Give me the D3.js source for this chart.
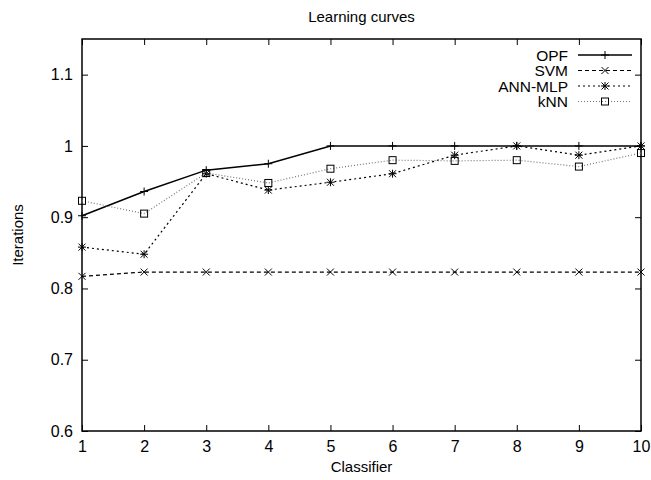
<!DOCTYPE html>
<html>
<head>
<meta charset="utf-8">
<script src="https://cdn.jsdelivr.net/npm/d3@7"></script>
<style>
  body { margin: 0; background: #fff; }
  text { font-family: "Liberation Sans", Arial, sans-serif; fill: #000; }
</style>
</head>
<body>
<svg id="chart" width="651" height="480"></svg>
<script>
// Learning curves data
const classifiers = [1, 2, 3, 4, 5, 6, 7, 8, 9, 10];
const opf = [0.902, 0.936, 0.966, 0.975, 1.0, 1.0, 1.0, 1.0, 1.0, 1.0];
const svm = [0.817, 0.823, 0.823, 0.823, 0.823, 0.823, 0.823, 0.823, 0.823, 0.823];
const annMlp = [0.858, 0.848, 0.961, 0.938, 0.949, 0.961, 0.987, 1.0, 0.987, 1.0];
const knn = [0.923, 0.905, 0.962, 0.948, 0.968, 0.980, 0.979, 0.980, 0.971, 0.990];
const yTicks = [0.6, 0.7, 0.8, 0.9, 1.0, 1.1];
const seriesNames = ["OPF", "SVM", "ANN-MLP", "kNN"];

const series = [
  { name: seriesNames[0], values: opf, dash: null, color: "#000", marker: "plus" },
  { name: seriesNames[1], values: svm, dash: "4,3", color: "#000", marker: "cross" },
  { name: seriesNames[2], values: annMlp, dash: "2,3", color: "#000", marker: "star" },
  { name: seriesNames[3], values: knn, dash: "1,2", color: "#777", marker: "square" },
];

const svg = d3.select("#chart");
const margin = { left: 82, right: 10, top: 39, bottom: 49 };
const W = 651, H = 480;

const x = d3.scaleLinear().domain([1, 10]).range([margin.left, W - margin.right]);
const y = d3.scaleLinear().domain([0.6, 1.15]).range([H - margin.bottom, margin.top]);

const fmt = (d) => (d === 1 ? "1" : d3.format(".1f")(d));

// bottom axis with inward ticks (gnuplot style, mirrored on top/right)
const xAxis = svg.append("g")
  .attr("transform", `translate(0,${y.range()[0]})`)
  .call(d3.axisBottom(x).tickValues(classifiers).tickSize(-6).tickPadding(10).tickFormat(d3.format("d")));
const xTop = svg.append("g")
  .attr("transform", `translate(0,${y.range()[1]})`)
  .call(d3.axisTop(x).tickValues(classifiers).tickSize(-6).tickFormat(""));
const yAxis = svg.append("g")
  .attr("transform", `translate(${x.range()[0]},0)`)
  .call(d3.axisLeft(y).tickValues(yTicks).tickSize(-6).tickPadding(9).tickFormat(fmt));
const yRight = svg.append("g")
  .attr("transform", `translate(${x.range()[1]},0)`)
  .call(d3.axisRight(y).tickValues(yTicks).tickSize(-6).tickFormat(""));

[xAxis, xTop, yAxis, yRight].forEach((g) => {
  g.select(".domain").remove();
  g.selectAll(".tick line").attr("stroke", "#000").attr("stroke-width", 1);
  g.selectAll("text").attr("font-size", 16).attr("fill", "#000")
    .attr("font-family", "Liberation Sans, Arial, sans-serif");
});

// frame
svg.append("rect")
  .attr("x", x.range()[0]).attr("y", y.range()[1])
  .attr("width", x.range()[1] - x.range()[0])
  .attr("height", y.range()[0] - y.range()[1])
  .attr("fill", "none").attr("stroke", "#000").attr("stroke-width", 1.5);

// marker drawing
function drawMarker(g, kind, cx, cy, color) {
  const s = 4;
  const st = (sel) => sel.attr("stroke", color).attr("stroke-width", 1).attr("fill", "none");
  if (kind === "plus" || kind === "star") {
    st(g.append("path").attr("d", `M${cx - s},${cy}H${cx + s}M${cx},${cy - s}V${cy + s}`));
  }
  if (kind === "cross" || kind === "star") {
    st(g.append("path").attr("d", `M${cx - s + 0.5},${cy - s + 0.5}L${cx + s - 0.5},${cy + s - 0.5}M${cx - s + 0.5},${cy + s - 0.5}L${cx + s - 0.5},${cy - s + 0.5}`));
  }
  if (kind === "square") {
    st(g.append("rect").attr("x", cx - 3.5).attr("y", cy - 3.5).attr("width", 7).attr("height", 7)).attr("stroke", "#000");
  }
}

const line = d3.line().x((d, i) => x(classifiers[i])).y((d) => y(d));

series.forEach((s) => {
  const g = svg.append("g");
  g.append("path")
    .datum(s.values)
    .attr("d", line)
    .attr("fill", "none")
    .attr("stroke", s.color)
    .attr("stroke-width", s.dash ? 1.2 : 1.5)
    .attr("stroke-dasharray", s.dash);
  s.values.forEach((v, i) => drawMarker(g, s.marker, x(classifiers[i]), y(v), "#000"));
});

// legend
const legend = svg.append("g");
series.forEach((s, i) => {
  const ly = 55 + i * 15.5;
  legend.append("text")
    .attr("x", 568).attr("y", ly + 5.5)
    .attr("text-anchor", "end")
    .attr("font-size", 15.5)
    .text(s.name);
  legend.append("line")
    .attr("x1", 578).attr("x2", 632).attr("y1", ly).attr("y2", ly)
    .attr("stroke", s.color)
    .attr("stroke-width", s.dash ? 1.2 : 1.5)
    .attr("stroke-dasharray", s.dash);
  drawMarker(legend, s.marker, 605, ly, "#000");
});

// title and axis labels
svg.append("text")
  .attr("x", (x.range()[0] + x.range()[1]) / 2).attr("y", 22)
  .attr("text-anchor", "middle").attr("font-size", 15)
  .text("Learning curves");
svg.append("text")
  .attr("x", (x.range()[0] + x.range()[1]) / 2).attr("y", 472)
  .attr("text-anchor", "middle").attr("font-size", 15)
  .text("Classifier");
svg.append("text")
  .attr("transform", `translate(23,${(y.range()[0] + y.range()[1]) / 2}) rotate(-90)`)
  .attr("text-anchor", "middle").attr("font-size", 15)
  .text("Iterations");
</script>
</body>
</html>
